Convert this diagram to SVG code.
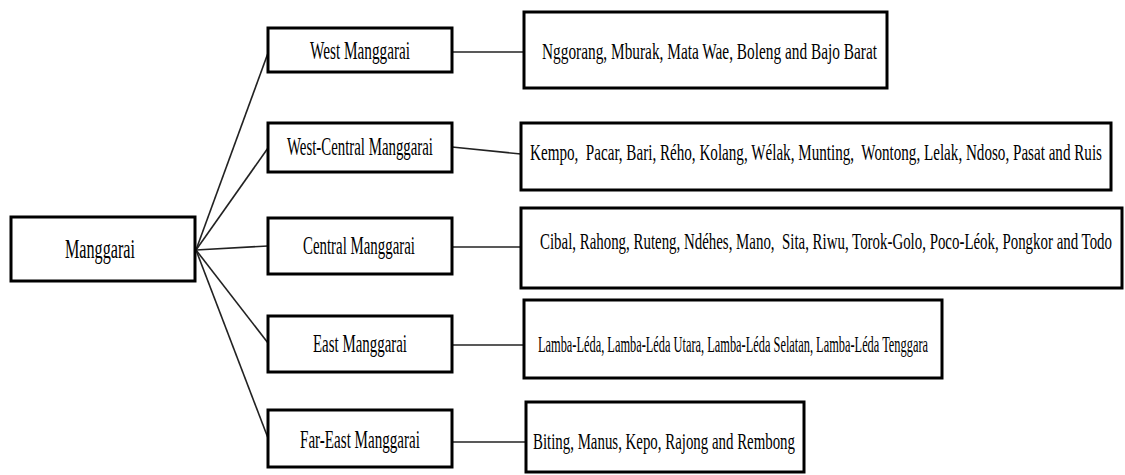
<svg xmlns="http://www.w3.org/2000/svg" width="1125" height="475" viewBox="0 0 1125 475">
<style>
.box{fill:#fff;stroke:#000;stroke-width:3}
.c{fill:none;stroke:#222;stroke-width:1.6}
text{font-family:"Liberation Serif","Times New Roman",serif;fill:#000;white-space:pre}
.lt{font-size:15px}
.rt{font-size:15px}
</style>
<rect width="1125" height="475" fill="#fff"/>
<g id="connectors">
<line class="c" x1="196" y1="250" x2="268" y2="53"/>
<line class="c" x1="196" y1="250" x2="268" y2="148"/>
<line class="c" x1="196" y1="250" x2="268" y2="246"/>
<line class="c" x1="196" y1="250" x2="268" y2="343"/>
<line class="c" x1="196" y1="250" x2="268" y2="438"/>
<line class="c" x1="452" y1="52" x2="524" y2="52"/>
<line class="c" x1="452" y1="147" x2="521" y2="154"/>
<line class="c" x1="452" y1="247" x2="521" y2="247"/>
<line class="c" x1="452" y1="345" x2="524" y2="345"/>
<line class="c" x1="452" y1="442" x2="526" y2="442"/>
</g>
<g id="manggarai">
<rect class="box" x="11" y="217" width="184" height="64"/>
<text class="lt" transform="translate(65,258) scale(1,1.7)" style="font-size:16px" textLength="70" lengthAdjust="spacingAndGlyphs">Manggarai</text>
</g>
<g id="west">
<rect class="box" x="268" y="28" width="184" height="44"/>
<text class="lt" transform="translate(310,59) scale(1,1.7)" textLength="100" lengthAdjust="spacingAndGlyphs">West Manggarai</text>
</g>
<g id="west-central">
<rect class="box" x="268" y="123" width="184" height="49"/>
<text class="lt" transform="translate(287,155) scale(1,1.7)" style="font-size:14.7px" textLength="146" lengthAdjust="spacingAndGlyphs">West-Central Manggarai</text>
</g>
<g id="central">
<rect class="box" x="268" y="218" width="184" height="56"/>
<text class="lt" transform="translate(303,254) scale(1,1.7)" textLength="112" lengthAdjust="spacingAndGlyphs">Central Manggarai</text>
</g>
<g id="east">
<rect class="box" x="268" y="316" width="184" height="56"/>
<text class="lt" transform="translate(313,352) scale(1,1.7)" textLength="94" lengthAdjust="spacingAndGlyphs">East Manggarai</text>
</g>
<g id="far-east">
<rect class="box" x="268" y="410" width="184" height="57"/>
<text class="lt" transform="translate(300,448) scale(1,1.7)" textLength="120" lengthAdjust="spacingAndGlyphs">Far-East Manggarai</text>
</g>
<g id="west-list">
<rect class="box" x="524" y="12" width="363" height="76"/>
<text class="rt" transform="translate(542,59) scale(1,1.5)" style="font-size:15.2px" textLength="335" lengthAdjust="spacingAndGlyphs">Nggorang, Mburak, Mata Wae, Boleng and Bajo Barat</text>
</g>
<g id="west-central-list">
<rect class="box" x="521" y="123" width="590" height="67"/>
<text class="rt" transform="translate(530,160) scale(1,1.5)" textLength="572" lengthAdjust="spacingAndGlyphs">Kempo,  Pacar, Bari, Rého, Kolang, Wélak, Munting,  Wontong, Lelak, Ndoso, Pasat and Ruis</text>
</g>
<g id="central-list">
<rect class="box" x="521" y="208" width="601" height="80"/>
<text class="rt" transform="translate(540,249) scale(1,1.5)" style="font-size:14.8px" textLength="572" lengthAdjust="spacingAndGlyphs">Cibal, Rahong, Ruteng, Ndéhes, Mano,  Sita, Riwu, Torok-Golo, Poco-Léok, Pongkor and Todo</text>
</g>
<g id="east-list">
<rect class="box" x="524" y="300" width="418" height="78"/>
<text class="rt" transform="translate(538,352) scale(1,1.9)" style="font-size:12.3px" textLength="390" lengthAdjust="spacingAndGlyphs">Lamba-Léda, Lamba-Léda Utara, Lamba-Léda Selatan, Lamba-Léda Tenggara</text>
</g>
<g id="far-east-list">
<rect class="box" x="526" y="402" width="278" height="70"/>
<text class="rt" transform="translate(533,449) scale(1,1.6)" style="font-size:14.9px" textLength="262" lengthAdjust="spacingAndGlyphs">Biting, Manus, Kepo, Rajong and Rembong</text>
</g>
</svg>
